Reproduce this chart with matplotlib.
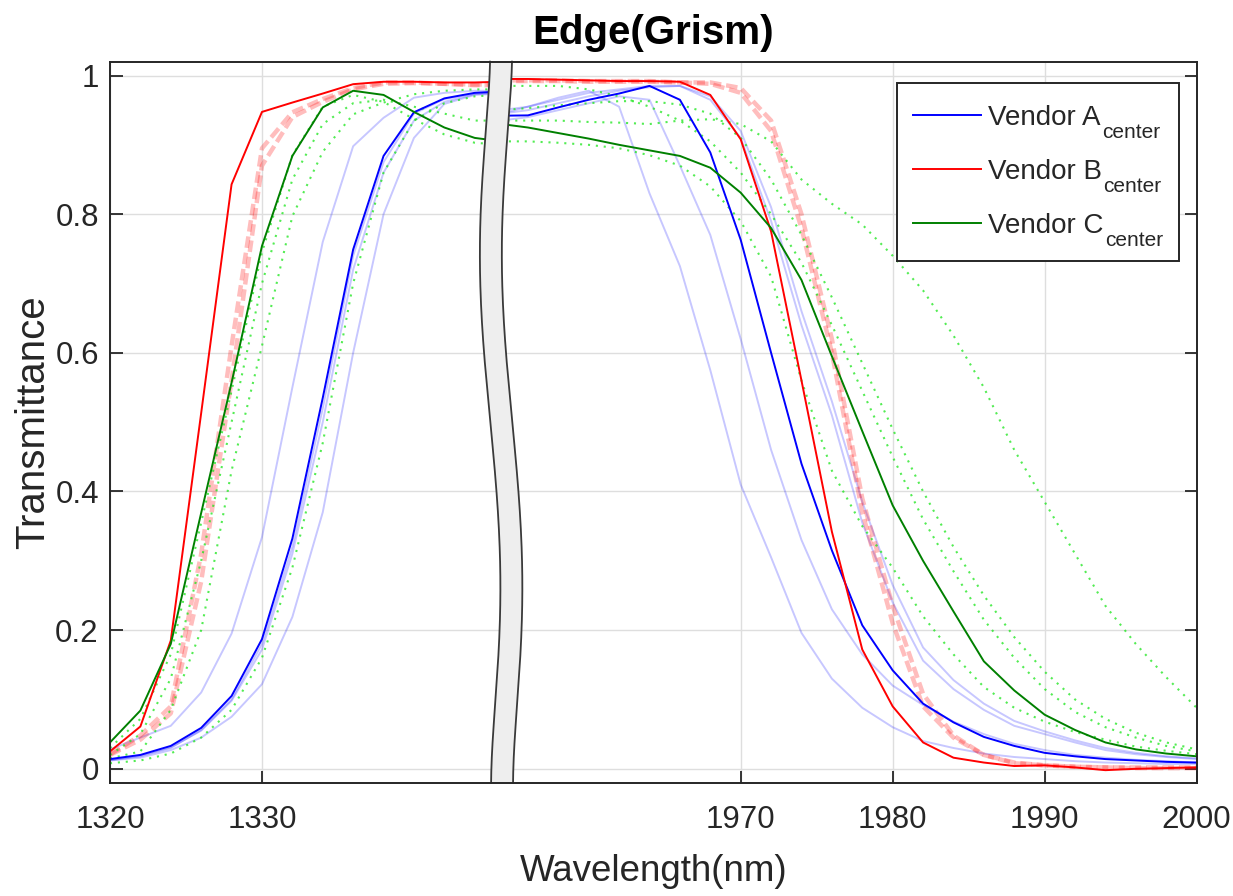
import numpy as np
import matplotlib
matplotlib.use("Agg")
import matplotlib.pyplot as plt
from matplotlib.patches import Polygon
from matplotlib.font_manager import FontProperties
from matplotlib.offsetbox import HPacker, DrawingArea
from matplotlib.text import Text

# ---------------- data ----------------
wl_left = [1320, 1322, 1324, 1326, 1328, 1330, 1332, 1334, 1336, 1338, 1340, 1342, 1344, 1346]
wl_right = [1954, 1956, 1958, 1960, 1962, 1964, 1966, 1968, 1970, 1972, 1974, 1976, 1978,
            1980, 1982, 1984, 1986, 1988, 1990, 1992, 1994, 1996, 1998, 2000]
wavelength = wl_left + wl_right

vendor_a_center = [0.014, 0.020, 0.033, 0.059, 0.105, 0.187, 0.332, 0.535, 0.749, 0.884, 0.947, 0.967, 0.975, 0.977,
                   0.942, 0.9425, 0.954, 0.965, 0.974, 0.985, 0.965, 0.889, 0.763, 0.600, 0.440, 0.315, 0.207,
                   0.142, 0.094, 0.067, 0.046, 0.033, 0.023, 0.018, 0.014, 0.012, 0.010, 0.009]
vendor_b_center = [0.025, 0.061, 0.185, 0.513, 0.843, 0.9475, 0.961, 0.974, 0.9875, 0.991, 0.991, 0.990, 0.990, 0.991,
                   0.995, 0.995, 0.994, 0.993, 0.992, 0.992, 0.991, 0.972, 0.908, 0.775, 0.560, 0.342, 0.172,
                   0.090, 0.038, 0.016, 0.009, 0.004, 0.005, 0.002, -0.002, 0.000, 0.001, 0.002]
vendor_c_center = [0.038, 0.084, 0.180, 0.369, 0.557, 0.754, 0.884, 0.954, 0.978, 0.972, 0.9475, 0.925, 0.910, 0.905,
                   0.930, 0.925, 0.917, 0.909, 0.900, 0.892, 0.884, 0.867, 0.831, 0.780, 0.705, 0.595, 0.487,
                   0.380, 0.300, 0.227, 0.155, 0.113, 0.078, 0.056, 0.038, 0.028, 0.022, 0.018]

vendor_a_run1 = [0.028, 0.045, 0.062, 0.110, 0.195, 0.334, 0.550, 0.760, 0.898, 0.939, 0.968, 0.975, 0.978, 0.978,
                 0.945, 0.955, 0.968, 0.978, 0.955, 0.830, 0.725, 0.575, 0.410, 0.305, 0.196, 0.130, 0.088,
                 0.060, 0.040, 0.030, 0.022, 0.017, 0.014, 0.011, 0.009, 0.008, 0.007, 0.007]
vendor_a_run2 = [0.013, 0.019, 0.031, 0.055, 0.098, 0.172, 0.310, 0.500, 0.720, 0.860, 0.935, 0.962, 0.973, 0.975,
                 0.935, 0.940, 0.950, 0.960, 0.970, 0.965, 0.870, 0.770, 0.620, 0.460, 0.330, 0.230, 0.165,
                 0.120, 0.092, 0.068, 0.050, 0.036, 0.027, 0.020, 0.016, 0.013, 0.011, 0.009]
vendor_a_run3 = [0.012, 0.018, 0.030, 0.056, 0.100, 0.180, 0.320, 0.520, 0.740, 0.875, 0.945, 0.966, 0.974, 0.976,
                 0.950, 0.955, 0.965, 0.975, 0.980, 0.985, 0.985, 0.965, 0.910, 0.790, 0.640, 0.510, 0.355,
                 0.240, 0.156, 0.115, 0.085, 0.062, 0.050, 0.038, 0.027, 0.021, 0.017, 0.014]
vendor_a_run4 = [0.012, 0.016, 0.027, 0.045, 0.075, 0.122, 0.219, 0.370, 0.600, 0.800, 0.910, 0.959, 0.972, 0.974,
                 0.945, 0.950, 0.960, 0.970, 0.978, 0.983, 0.985, 0.970, 0.920, 0.810, 0.660, 0.530, 0.385,
                 0.265, 0.175, 0.128, 0.094, 0.069, 0.054, 0.041, 0.030, 0.023, 0.018, 0.015]

vendor_b_run1 = [0.021, 0.048, 0.090, 0.310, 0.610, 0.895, 0.947, 0.966, 0.982, 0.990, 0.990, 0.988, 0.986, 0.986,
                 0.993, 0.993, 0.993, 0.992, 0.992, 0.992, 0.990, 0.990, 0.982, 0.935, 0.800, 0.620, 0.390,
                 0.235, 0.108, 0.048, 0.020, 0.008, 0.005, 0.003, 0.002, 0.002, 0.002, 0.002]
vendor_b_run2 = [0.020, 0.042, 0.080, 0.270, 0.560, 0.870, 0.940, 0.962, 0.980, 0.988, 0.989, 0.988, 0.987, 0.987,
                 0.992, 0.992, 0.992, 0.991, 0.991, 0.991, 0.990, 0.988, 0.975, 0.920, 0.780, 0.600, 0.370,
                 0.210, 0.090, 0.045, 0.020, 0.009, 0.005, 0.003, 0.002, 0.001, 0.001, 0.001]

vendor_c_run1 = [0.030, 0.072, 0.165, 0.355, 0.545, 0.745, 0.885, 0.955, 0.972, 0.962, 0.937, 0.915, 0.903, 0.900,
                 0.905, 0.905, 0.903, 0.900, 0.895, 0.885, 0.870, 0.840, 0.790, 0.710, 0.560, 0.430, 0.350,
                 0.290, 0.220, 0.165, 0.118, 0.088, 0.068, 0.053, 0.042, 0.032, 0.026, 0.021]
vendor_c_run2 = [0.015, 0.025, 0.085, 0.200, 0.430, 0.610, 0.797, 0.890, 0.944, 0.961, 0.973, 0.978, 0.980, 0.980,
                 0.985, 0.985, 0.985, 0.980, 0.970, 0.955, 0.935, 0.905, 0.860, 0.800, 0.730, 0.640, 0.545,
                 0.450, 0.360, 0.285, 0.215, 0.160, 0.115, 0.082, 0.060, 0.045, 0.033, 0.025]
vendor_c_run3 = [0.008, 0.012, 0.022, 0.045, 0.085, 0.160, 0.290, 0.470, 0.700, 0.860, 0.935, 0.960, 0.970, 0.972,
                 0.950, 0.953, 0.957, 0.960, 0.963, 0.963, 0.958, 0.945, 0.910, 0.850, 0.770, 0.680, 0.585,
                 0.490, 0.400, 0.320, 0.250, 0.190, 0.140, 0.100, 0.072, 0.052, 0.038, 0.028]
vendor_c_run4 = [0.020, 0.050, 0.130, 0.300, 0.500, 0.700, 0.850, 0.930, 0.960, 0.965, 0.955, 0.945, 0.935, 0.935,
                 0.935, 0.935, 0.935, 0.933, 0.932, 0.930, 0.935, 0.937, 0.930, 0.905, 0.850, 0.815, 0.785,
                 0.740, 0.690, 0.625, 0.550, 0.460, 0.385, 0.310, 0.235, 0.180, 0.132, 0.088]

x_ticks = [1320, 1330, 1970, 1980, 1990, 2000]
y_ticks = [0, 0.2, 0.4, 0.6, 0.8, 1.0]
y_ticklabels = ["0", "0.2", "0.4", "0.6", "0.8", "1"]
legend_names = ["Vendor A", "Vendor B", "Vendor C"]
legend_sub = "center"

# ---------------- broken x scale ----------------
BREAK_LO, BREAK_HI = 1345.75, 1954.25
GAP = BREAK_HI - BREAK_LO


def fwd(x):
    x = np.asarray(x, dtype=float)
    return np.where(x <= BREAK_LO, x, np.where(x >= BREAK_HI, x - GAP, BREAK_LO))


def inv(x):
    x = np.asarray(x, dtype=float)
    return np.where(x <= BREAK_LO, x, x + GAP)


FAM = ["Liberation Sans", "DejaVu Sans"]
plt.rcParams["font.family"] = FAM

TXT = "#262626"
fig = plt.figure(figsize=(12.33, 8.96), dpi=100)
ax = fig.add_axes([0.0892, 0.1265, 0.8813, 0.8047])
ax.set_xscale("function", functions=(fwd, inv))

light_blue = dict(color=(0.0, 0.0, 1.0), alpha=0.22, lw=1.4)
pink = dict(color=(1.0, 0.0, 0.0), alpha=0.26, lw=3.2, linestyle=(0, (2.6, 1.1)))
lgreen = dict(color=(0.1, 0.9, 0.1), alpha=0.75, lw=1.5, linestyle=(0, (1, 2.8)))

for run in (vendor_a_run1, vendor_a_run2, vendor_a_run3, vendor_a_run4):
    ax.plot(wavelength, run, **light_blue)
for run in (vendor_b_run1, vendor_b_run2):
    ax.plot(wavelength, run, **pink)
for run in (vendor_c_run1, vendor_c_run2, vendor_c_run3, vendor_c_run4):
    ax.plot(wavelength, run, **lgreen)

la, = ax.plot(wavelength, vendor_a_center, color=(0, 0, 1), lw=1.4)
lb, = ax.plot(wavelength, vendor_b_center, color=(1, 0, 0), lw=1.4)
lc, = ax.plot(wavelength, vendor_c_center, color=(0, 0.5, 0), lw=1.4)

ax.set_xlim(1320, 2000)
ax.set_ylim(-0.02, 1.02)
ax.set_xticks(x_ticks)
ax.set_xticklabels([str(t) for t in x_ticks])
ax.xaxis.set_minor_locator(matplotlib.ticker.NullLocator())
ax.set_yticks(y_ticks)
ax.set_yticklabels(y_ticklabels)

ax.grid(True, color="#dedede", lw=1.0)
ax.set_axisbelow(True)
ax.tick_params(direction="in", length=9, width=1.3, colors=TXT, labelsize=22.5,
               right=True, top=False)
ax.tick_params(axis="x", pad=16)
ax.tick_params(axis="y", pad=8)
for sp in ax.spines.values():
    sp.set_color(TXT)
    sp.set_linewidth(1.4)

# axis break band
by = [0.0, 0.0889, 0.1896, 0.2908, 0.3578, 0.4922, 0.6071, 0.7947, 0.8955, 1.0]
bc = [0.3607, 0.3640, 0.3678, 0.3690, 0.3678, 0.3612, 0.3534, 0.3512, 0.3558, 0.3598]
yy = np.linspace(0, 1, 200)
cc = np.polyval(np.polyfit(by, bc, 5), yy)
half = 0.0101
poly = np.vstack([np.column_stack([cc - half, yy]), np.column_stack([(cc + half)[::-1], yy[::-1]])])
ax.add_patch(Polygon(poly, closed=True, transform=ax.transAxes, facecolor="#eeeeee",
                     edgecolor="none", zorder=2.3, clip_on=False))
ax.plot(cc - half, yy, transform=ax.transAxes, color="#3a3a3a", lw=1.3, zorder=2.35, clip_on=False)
ax.plot(cc + half, yy, transform=ax.transAxes, color="#3a3a3a", lw=1.3, zorder=2.35, clip_on=False)

ax.set_title("Edge(Grism)", fontsize=29, fontweight="bold", pad=13, color="black")
ax.set_xlabel("Wavelength(nm)", fontsize=26.5, color=TXT, labelpad=14)
ax.set_ylabel("Transmittance", fontsize=29, color=TXT, labelpad=2)

# ---------------- legend with dropped subscripts ----------------
LFS, SFS = 20, 15
leg = ax.legend([la, lb, lc], legend_names,
                loc="upper right", bbox_to_anchor=(0.984, 0.970),
                borderaxespad=0, fontsize=LFS, frameon=True, fancybox=False, framealpha=1,
                edgecolor=TXT, handlelength=2.45, handletextpad=0.28, borderpad=0.55,
                labelspacing=0.55)
leg.get_frame().set_linewidth(1.4)
for t in leg.get_texts():
    t.set_color(TXT)

r0 = fig.canvas.get_renderer()
fps = FontProperties(family=FAM, size=SFS)
fpm = FontProperties(family=FAM, size=LFS)
sub_w, sub_h, sub_d = r0.get_text_width_height_descent(legend_sub, fps, ismath=False)
_, lp_h, lp_d = r0.get_text_width_height_descent("lp", fpm, ismath=False)
to_pt = 72.0 / fig.dpi
drop = 13.0                      # px below the main baseline
extra_top = 6.0                  # px of extra room above each row
col = leg._legend_handle_box.get_children()[0]
for item in col.get_children():
    kids = item.get_children()
    ta = kids[1]
    ydesc = (drop + sub_d) * to_pt
    height = ydesc + (lp_h - lp_d + extra_top) * to_pt
    da = DrawingArea((sub_w + 2) * to_pt, height, xdescent=0, ydescent=ydesc)
    st = Text(1 * to_pt, -drop * to_pt, legend_sub, fontsize=SFS, color=TXT,
              ha="left", va="baseline", family=FAM)
    da.add_artist(st)
    box = HPacker(children=[ta, da], pad=0, sep=0, align="baseline")
    box.set_figure(fig)
    kids[1] = box

fig.savefig("out.png", dpi=100)
